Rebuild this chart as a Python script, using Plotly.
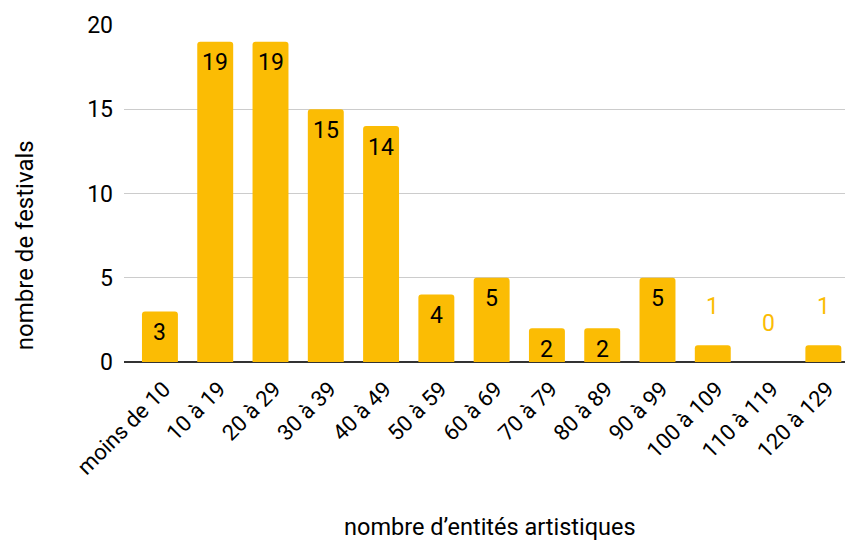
import plotly.graph_objects as go

categories = ["moins de 10", "10 à 19", "20 à 29", "30 à 39", "40 à 49", "50 à 59",
              "60 à 69", "70 à 79", "80 à 89", "90 à 99", "100 à 109", "110 à 119", "120 à 129"]
values = [3, 19, 19, 15, 14, 4, 5, 2, 2, 5, 1, 0, 1]
y_ticks = [0, 5, 10, 15, 20]

YELLOW = "#FBBC04"
FONT = "Roboto"

fig = go.Figure()
fig.add_trace(go.Bar(
    x=list(range(len(categories))), y=values,
    marker=dict(color=YELLOW, cornerradius=3, line=dict(width=0)),
    hoverinfo="skip",
))

for i, v in enumerate(values):
    inside = v >= 2
    fig.add_annotation(
        x=i, y=v, xref="x", yref="y", text=str(v), showarrow=False,
        yanchor="middle", yshift=-21 if inside else 39,
        font=dict(family=FONT, size=23, color="#000000" if inside else YELLOW),
    )

fig.add_annotation(text="nombre de festivals", xref="paper", yref="paper",
                   x=-0.136, y=0.347, textangle=-90, showarrow=False,
                   xanchor="center", yanchor="middle",
                   font=dict(family=FONT, size=24, color="#000000"))
fig.add_annotation(text="nombre d’entités artistiques", xref="paper", yref="paper",
                   x=0.504, y=-0.49, showarrow=False, xanchor="center", yanchor="middle",
                   font=dict(family=FONT, size=23.5, color="#000000"))

fig.update_layout(
    width=853, height=545,
    margin=dict(l=116, r=10, t=17, b=191, autoexpand=False),
    paper_bgcolor="white", plot_bgcolor="white",
    bargap=0.35, showlegend=False,
    font=dict(family=FONT, size=23, color="#000000"),
    xaxis=dict(
        tickmode="array", tickvals=list(range(len(categories))), ticktext=categories,
        range=[-0.65, 12.5], tickangle=-45, showgrid=False, zeroline=False,
        showline=False, ticks="", ticklabelstandoff=9, ticklabelshift=4, automargin=False,
        tickfont=dict(family=FONT, size=22, color="#000000"),
    ),
    yaxis=dict(
        range=[0, 20], tickvals=y_ticks, showgrid=True, gridcolor="#CCCCCC", gridwidth=1,
        zeroline=True, zerolinecolor="#333333", zerolinewidth=2, showline=False,
        ticks="", ticklabelstandoff=10, automargin=False,
        tickfont=dict(family=FONT, size=23, color="#000000"),
    ),
)

fig.write_html("out.html")
